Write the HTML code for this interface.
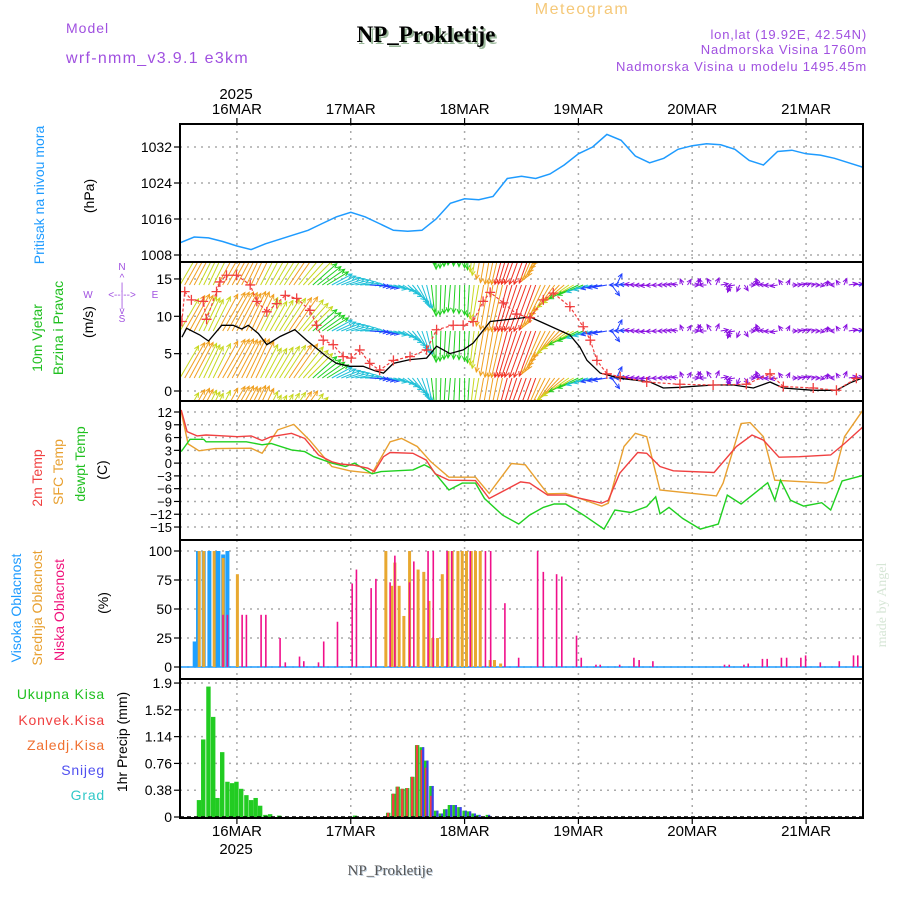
<!DOCTYPE html>
<html><head><meta charset="utf-8">
<style>
html,body{margin:0;padding:0;background:#fff;}
body{width:900px;height:900px;overflow:hidden;font-family:"Liberation Sans",sans-serif;}
</style></head>
<body>
<svg id="chart" width="900" height="900" viewBox="0 0 900 900" xmlns="http://www.w3.org/2000/svg" font-family="Liberation Sans, sans-serif">
<defs>
<clipPath id="cpP"><rect x="180" y="124" width="683" height="138"/></clipPath>
<clipPath id="cpW"><rect x="180" y="262" width="683" height="139"/></clipPath>
<clipPath id="cpT"><rect x="180" y="401" width="683" height="139"/></clipPath>
</defs>
<text x="582" y="14" font-size="16" fill="#f5c878" text-anchor="middle" letter-spacing="1.5">Meteogram</text>
<text x="66" y="33" font-size="14" fill="#a050e0" letter-spacing="1">Model</text>
<text x="66" y="63" font-size="16" fill="#a050e0" letter-spacing="1.3">wrf-nmm_v3.9.1 e3km</text>
<text x="428" y="44" font-size="23" font-weight="bold" style="font-family:'Liberation Serif',serif" fill="#9ab89a" text-anchor="middle">NP_Prokletije</text>
<text x="426" y="42" font-size="23" font-weight="bold" style="font-family:'Liberation Serif',serif" fill="#000" text-anchor="middle">NP_Prokletije</text>
<text x="867" y="39" font-size="13" fill="#a050e0" text-anchor="end" letter-spacing="0.8">lon,lat (19.92E, 42.54N)</text>
<text x="867" y="54" font-size="13" fill="#a050e0" text-anchor="end" letter-spacing="0.8">Nadmorska Visina 1760m</text>
<text x="867" y="71" font-size="13" fill="#a050e0" text-anchor="end" letter-spacing="0.8">Nadmorska Visina u modelu 1495.45m</text>
<text x="236" y="99" font-size="15" text-anchor="middle">2025</text>
<text x="236" y="854" font-size="15" text-anchor="middle">2025</text>
<text x="391" y="876" font-size="15" style="font-family:'Liberation Serif',serif" fill="#bcd" text-anchor="middle">NP_Prokletije</text>
<text x="390" y="875" font-size="15" style="font-family:'Liberation Serif',serif" fill="#555" text-anchor="middle">NP_Prokletije</text>
<text transform="translate(886,605) rotate(-90)" font-size="14" style="font-family:'Liberation Serif',serif" fill="#d6e6d6" text-anchor="middle">made by Angel</text>

<text transform="translate(44,195) rotate(-90)" font-size="14" fill="#1e9bff" text-anchor="middle">Pritisak na nivou mora</text>
<text transform="translate(94,196) rotate(-90)" font-size="14" text-anchor="middle">(hPa)</text>
<text transform="translate(42,338) rotate(-90)" font-size="14" fill="#20c020" text-anchor="middle">10m Vjetar</text>
<text transform="translate(63,328) rotate(-90)" font-size="14" fill="#20c020" text-anchor="middle">Brzina i Pravac</text>
<text transform="translate(93,322) rotate(-90)" font-size="14" text-anchor="middle">(m/s)</text>
<g fill="#a050e0" font-size="10" text-anchor="middle">
<text x="122" y="270">N</text><text x="122" y="281">^</text><text x="122" y="290">|</text>
<text x="88" y="298">W</text><text x="122" y="298">&lt;--|--&gt;</text><text x="155" y="298">E</text>
<text x="122" y="307">|</text><text x="122" y="314">v</text><text x="122" y="322">S</text>
</g>
<text transform="translate(42,478) rotate(-90)" font-size="14" fill="#f04040" text-anchor="middle">2m Temp</text>
<text transform="translate(63,472) rotate(-90)" font-size="14" fill="#e8a030" text-anchor="middle">SFC Temp</text>
<text transform="translate(85,464) rotate(-90)" font-size="14" fill="#20c020" text-anchor="middle">dewpt Temp</text>
<text transform="translate(107,470) rotate(-90)" font-size="14" text-anchor="middle">(C)</text>
<text transform="translate(21,608) rotate(-90)" font-size="14" fill="#1e9bff" text-anchor="middle">Visoka Oblacnost</text>
<text transform="translate(42,608) rotate(-90)" font-size="14" fill="#e8a030" text-anchor="middle">Srednja Oblacnost</text>
<text transform="translate(64,610) rotate(-90)" font-size="14" fill="#f0107a" text-anchor="middle">Niska Oblacnost</text>
<text transform="translate(108,603) rotate(-90)" font-size="14" text-anchor="middle">(%)</text>
<g font-size="14" text-anchor="end" letter-spacing="0.8">
<text x="105" y="699" fill="#20c020">Ukupna Kisa</text>
<text x="105" y="725" fill="#f04040">Konvek.Kisa</text>
<text x="105" y="750" fill="#f07030">Zaledj.Kisa</text>
<text x="105" y="775" fill="#5050f0">Snijeg</text>
<text x="105" y="800" fill="#30c8c8">Grad</text>
</g>
<text transform="translate(127,742) rotate(-90)" font-size="14" text-anchor="middle">1hr Precip (mm)</text>
<g id="plot"></g>
</svg>
<script>
// ---- data ----
const dayLabels = ["16MAR","17MAR","18MAR","19MAR","20MAR","21MAR"];
const dayHours = [12,36,60,84,108,132];
// pressure, every 3h from hour 0
const presStep = 3;
const presValues = [1010.7,1012,1011.8,1011,1010,1009.2,1010.5,1011.5,1012.5,1013.5,1015,1016.5,1017.5,1016.5,1015,1013.5,1013.3,1013.5,1016,1019.5,1020.5,1020.3,1021,1025,1025.5,1025,1026,1028,1030.5,1032,1034.8,1033.5,1030,1028.5,1029.5,1031.5,1032.3,1032.7,1032.5,1031.5,1029,1028,1031,1031.3,1030.5,1030.2,1029.5,1028.5,1027.5];
const presTicks = [1008,1016,1024,1032];
// wind speed (black line)
const windHours = [0.4,1.4,4.2,6,8.8,11.2,13,14.4,16.5,18.3,21.1,24.2,26.7,30.9,33,35.8,38.6,41.1,42.9,45,48.5,52,54.1,56.9,59.7,61.8,65.4,68.2,73.8,76.6,82.2,84.3,85.8,88.6,92.8,99.1,101.9,105.4,112.4,116.7,120.9,124.4,127.2,133.5,138.4,141.3,143.7];
const windSpeed = [7.2,8.4,7.5,6.7,8.8,8.8,8.3,8.8,7.7,6.2,7.3,8.2,6.8,4.6,3.7,3.3,3.3,2.7,2.4,3.7,4.2,4.4,6.0,5.0,5.5,6.4,9.3,9.5,9.9,9.1,7.5,5.9,4.1,2.4,1.7,1.2,0.4,0.5,0.8,0.8,0.4,1.2,0.4,0.1,0.1,1.1,1.7];
// gusts (red +)
const gustHours = [0.4,1,2.4,4.9,5.6,7.7,8.4,9.8,11.9,14.8,16.2,18.3,20.4,22.2,24.6,27.4,28.8,30.2,32.3,34.4,36.1,37.9,40,42.1,45,48.5,52,54.1,57.6,59.7,61.8,63.9,65.4,68.2,71,73.8,76.6,78.7,82.2,85,86.5,87.9,90,92.8,98.4,105.4,112.4,119.4,124.4,127.2,133.5,138.4,142.6];
const gustSpeed = [9.3,13.3,12.2,12,9.6,13.3,14.6,15.5,15.5,14.2,12,10.6,11.7,12.8,12.4,10.8,8.8,6.8,6.2,4.6,4.4,5.5,3.7,2.8,4.1,4.6,5.5,8.2,8.8,8.8,9.3,12,13.2,11.8,10.3,9.8,12.2,13.1,11.3,8.6,6.8,4.1,2.3,1.9,1.2,0.9,0.8,0.9,2.3,0.6,0.4,0.1,1.7];
// wind pointing direction (deg, 0=east, 90=north), every 3h
const dirStep = 3;
const windDir = [60,62,65,60,62,65,62,58,55,45,35,25,15,0,-10,-15,-40,-70,-90,-95,-90,-100,-100,-105,-110,-110,-120,-140,-155,-165,-170,180,175,185,180,170,0,180,10,-170,0,170,190,0,20,-10,180,10,0];
const windTicks = [0,5,10,15];
// temperatures
const t2Hours = [0.26,1.5,3.6,5.5,7.4,12.1,15,17.3,19.2,23.5,26.3,29.2,32,33.9,36.8,39.6,41,42.9,44.3,49.1,51.9,53.8,56.7,62.3,65.2,71.8,73.7,77.5,81.3,88.9,90.3,92.7,96.5,98.4,101.2,104,112.6,117.3,120.6,123,126.3,130.6,137.2,140.1,144.3];
const t2Values = [12.5,7.4,6.4,6.6,6.5,6.2,6.4,5.3,6.2,7.0,5.8,1.9,0.3,-0.2,-0.5,-1.2,-2.0,1.5,2.5,2.3,0.7,-2.5,-4.0,-4.1,-8.3,-4.4,-4.7,-7.5,-7.5,-9.4,-8.7,-2.4,2.5,2.3,-0.8,-1.8,-2.2,3.9,6.6,5.4,1.4,1.5,1.9,4.6,8.8];
const sfcHours = [0.26,1.7,4,7.4,15,17.3,20.6,24,27.3,32,35.8,40.5,44.3,46.7,50,52.9,56.7,62.3,65.2,69.9,72.8,77.5,81.3,88.9,90.3,93.6,96,98.4,101.2,113.1,114.5,118.3,120.2,123,125.4,136.3,137.7,140.1,143.9];
const sfcValues = [12.1,4.5,2.9,3.4,3.5,2.3,7.8,9.1,5.4,-0.8,-1.8,-2.4,5.0,5.8,3.9,0.3,-3.3,-3.3,-7.1,-0.1,-0.4,-7.2,-7.1,-10.1,-9.4,3.9,7.0,6.2,-6.3,-7.7,-4.7,9.3,9.5,6.2,-4.0,-4.7,-4.0,6.2,12.3];
const dewHours = [0.26,2.1,5,5.5,14,17.3,19.2,23.5,26.3,28.2,32,34.9,36.8,40.5,42.4,49.1,51.5,52.9,56.7,59.5,62.3,64.2,68,71.4,73.7,76.6,78.9,81.3,85.1,89.4,91.7,95,98.4,100.3,101.2,103.1,106,109.7,113.5,115.4,118.3,121.1,123.9,125.4,126.6,128.7,131.5,135.3,137.2,139.6,144.3];
const dewValues = [2.7,5.6,5.6,5.0,5.0,4.3,4.6,3.1,2.7,1.5,0,-0.8,0,-2.5,-2.0,-1.6,-0.4,-1.2,-6.3,-4.7,-4.7,-8.3,-12.2,-14.3,-12.2,-10.4,-9.6,-9.6,-12.2,-15.5,-11,-11.6,-10.2,-7.9,-11.9,-10.4,-13,-15.5,-14.3,-7.5,-9.6,-7.1,-4.6,-8.7,-4.0,-8.7,-10.1,-9.3,-11,-4.2,-2.8];
const tempTicks = [12,9,6,3,0,-3,-6,-9,-12,-15];
// clouds
const highHours = [3.1,3.8,5.0,6.2,7.4,8.1,9.1,10.0];
const highValues = [22,100,100,100,100,100,97,100];
const midHours = [4.05,5.0,7.2,9.1,12.1,43.4,44.6,45.3,46.2,47.2,48.4,50.2,51.4,52.5,53.3,54.3,55.3,56.5,57.4,58.6,59.5,60.4,61.4,62.3,63.3,65.4,66.3,67.6];
const midValues = [100,100,100,94,80,100,70,90,70,44,100,84,82,57,25,25,80,100,100,100,100,100,100,100,100,6,6,3];
const lowHours = [9.07,10,13.1,14,17.1,18.1,21.1,22.2,25.2,26.1,29.2,30.3,33.2,36.3,37.2,40.3,41.3,44.3,45.3,48.4,49.3,52.3,53.4,56.3,57.3,61.2,64.4,65.5,68.5,71.4,75.4,76.6,79.4,80.5,83.6,84.6,87.7,88.6,92.7,95.7,96.8,99.7,114.8,115.8,118.9,119.8,122.8,123.8,126.8,127.9,130.9,131.9,135,139,142,142.9];
const lowValues = [45,45,45,45,45,45,25,4,9,5,4,22,39,72,84,68,76,73,96,73,91,100,100,100,100,100,100,100,55,8,100,82,80,78,27,8,2,2,2,8,6,5,2,2,2,3,7,7,8,8,8,10,4,5,10,10];
const cloudTicks = [0,25,50,75,100];
// precipitation (mm/h)
const prcHours = [4,4.9,6,7,7.9,8.9,10,11,11.9,12.9,14,15,15.95,16.9,18,19,20.9,36.9,43.9,45,45.9,46.9,47.9,49,50,51,51.9,53,54,55,55.9,56.9,57.9,58.9,60,60.9,61.9,62.9,64.9];
const prcTotal = [0.24,1.1,1.85,1.42,0.27,0.92,0.5,0.48,0.5,0.4,0.31,0.24,0.27,0.16,0.03,0.04,0.02,0.02,0.06,0.33,0.43,0.4,0.41,0.57,1.02,0.99,0.8,0.44,0.09,0.05,0.11,0.17,0.17,0.14,0.09,0.08,0.05,0.03,0.03];
const prcConv = [0,0,0,0,0,0,0,0,0,0,0,0,0,0,0,0,0,0,0.06,0.33,0.43,0.4,0.41,0.57,1.02,0.95,0.7,0.3,0,0,0,0,0,0,0,0,0,0,0];
const prcSnow = [0,0,0,0,0,0,0,0,0,0,0,0,0,0,0,0,0,0,0,0,0,0,0,0,0,0.99,0.8,0.44,0.09,0.05,0.11,0.17,0.17,0.14,0.09,0.08,0.05,0.03,0.03];
const prcTicks = [0,0.38,0.76,1.14,1.52,1.9];

// ---- axes ----
const X0=180, X1=863, HMAX=144;
const X = h => X0 + h*(X1-X0)/HMAX;
const Yp = v => 255 - (v-1008)*4.5;
const Yw = v => 391 - v*7.47;
const Yt = v => 412 + (12-v)*4.26;
const Yc = v => 667 - v*1.16;
const Yr = v => 817 - v*70.5;
const panels = [[124,262],[262,401],[401,540],[540,679],[679,818]];

const NS="http://www.w3.org/2000/svg";
const plot=document.getElementById('plot');
function mk(tag, attrs, parent){const e=document.createElementNS(NS,tag);for(const k in attrs)e.setAttribute(k,attrs[k]);(parent||plot).appendChild(e);return e;}
function interp(hs, vs, h){if(h<=hs[0])return vs[0];for(let i=1;i<hs.length;i++){if(h<=hs[i]){const t=(h-hs[i-1])/(hs[i]-hs[i-1]);return vs[i-1]+t*(vs[i]-vs[i-1]);}}return vs[vs.length-1];}

// grids
const grid=mk('g',{stroke:'#aaa','stroke-width':1.5,'stroke-dasharray':'2,5'});


function hgrid(y){mk('line',{x1:X0,x2:X1,y1:y,y2:y},grid);}
presTicks.forEach(v=>hgrid(Yp(v)));
windTicks.forEach(v=>hgrid(Yw(v)));
tempTicks.forEach(v=>hgrid(Yt(v)));
cloudTicks.forEach(v=>hgrid(Yc(v)));
prcTicks.forEach(v=>hgrid(Yr(v)));
dayHours.forEach(h=>panels.forEach(p=>mk('line',{x1:X(h),x2:X(h),y1:p[0],y2:p[1]},grid)));

// tick labels
const tl=mk('g',{'font-size':14,'text-anchor':'end',fill:'#000'});


const tk=mk('g',{stroke:'#000','stroke-width':1.2});
function ytick(y,label,fs){mk('line',{x1:X0-6,x2:X0,y1:y,y2:y},tk);const t=mk('text',{x:X0-8,y:y+5,'font-size':fs||14},tl);t.textContent=label;}
presTicks.forEach(v=>ytick(Yp(v),v));
windTicks.forEach(v=>ytick(Yw(v),v));
tempTicks.forEach(v=>ytick(Yt(v),v<0?'\u2212'+(-v):v,13));
cloudTicks.forEach(v=>ytick(Yc(v),v));
prcTicks.forEach(v=>ytick(Yr(v),v));
dayHours.forEach((h,i)=>{
  mk('line',{x1:X(h),x2:X(h),y1:124,y2:118},tk);
  mk('line',{x1:X(h),x2:X(h),y1:818,y2:824},tk);
  const a=mk('text',{x:X(h),y:114,'font-size':15,'text-anchor':'middle'});
  
  
  a.textContent=dayLabels[i];
  const b=mk('text',{x:X(h),y:836,'font-size':15,'text-anchor':'middle'});
  
  
  b.textContent=dayLabels[i];
});

// pressure line
const pp=presValues.map((v,i)=>X(i*presStep).toFixed(1)+','+Yp(v).toFixed(1)).join(' ');
const pl=mk('polyline',{points:pp,fill:'none',stroke:'#1e9bff','stroke-width':1.5,'clip-path':'url(#cpP)'});



// wind arrows
function spdColor(v){if(v<1.5)return'#8a10e0';if(v<3)return'#2040ff';if(v<4.5)return'#20c0d8';if(v<6.3)return'#20d020';if(v<7.8)return'#c8d820';if(v<9.5)return'#f0a020';return'#f03020';}
const wg=mk('g',{'clip-path':'url(#cpW)','stroke-width':1,fill:'none'});


const rows=[238,285,331,378,425];
const dirHours=windDir.map((_,i)=>i*dirStep);
for(let h=0;h<=HMAX;h++){
  const v=interp(windHours,windSpeed,h);
  const d=interp(dirHours,windDir,h)*Math.PI/180;
  const len=4+v*4.6;const c=spdColor(v);
  rows.forEach(y0=>{
    const x0=X(h),x1=x0+len*Math.cos(d),y1=y0-len*Math.sin(d);
    const a1=d+Math.PI-0.45,a2=d+Math.PI+0.45;
    const p=mk('path',{d:`M${x0.toFixed(1)},${y0}L${x1.toFixed(1)},${y1.toFixed(1)}M${(x1+5*Math.cos(a1)).toFixed(1)},${(y1-5*Math.sin(a1)).toFixed(1)}L${x1.toFixed(1)},${y1.toFixed(1)}L${(x1+5*Math.cos(a2)).toFixed(1)},${(y1-5*Math.sin(a2)).toFixed(1)}`,stroke:c},wg);
    
    
  });
}
const wl=mk('polyline',{points:windHours.map((h,i)=>X(h).toFixed(1)+','+Yw(windSpeed[i]).toFixed(1)).join(' '),fill:'none',stroke:'#000','stroke-width':1.3,'clip-path':'url(#cpW)'});


const gl=mk('polyline',{points:gustHours.map((h,i)=>X(h).toFixed(1)+','+Yw(gustSpeed[i]).toFixed(1)).join(' '),fill:'none',stroke:'#f04040','stroke-width':1.2,'stroke-dasharray':'3,2','clip-path':'url(#cpW)'});


gustHours.forEach((h,i)=>{
  const x=X(h),y=Yw(gustSpeed[i]);
  const m=mk('path',{d:`M${x-5},${y}h10M${x},${y-5}v10`,stroke:'#f04040','stroke-width':1.3,'clip-path':'url(#cpW)'});
  
  
});

// temperature lines
[[sfcHours,sfcValues,'#e8a030','sfc-temp-line'],[dewHours,dewValues,'#20d020','dewpoint-line'],[t2Hours,t2Values,'#f04040','temp-2m-line']].forEach(s=>{
  const l=mk('polyline',{points:s[0].map((h,i)=>X(h).toFixed(1)+','+Yt(s[1][i]).toFixed(1)).join(' '),fill:'none',stroke:s[2],'stroke-width':1.4,'clip-path':'url(#cpT)'});
  
  
});

// cloud bars
const base=mk('line',{x1:X0,x2:X1,y1:Yc(0),y2:Yc(0),stroke:'#1e9bff','stroke-width':1.5});


function bars(hs,vs,w,col,name){hs.forEach((h,i)=>{const y=Yc(vs[i]);const r=mk('rect',{x:X(h)-w/2,y:y,width:w,height:Yc(0)-y,fill:col});
  
  });}
bars(highHours,highValues,4,'#1ea0ff','cloud-high-bar');
bars(midHours,midValues,3,'#e8a830','cloud-mid-bar');
bars(lowHours,lowValues,1.6,'#f0108a','cloud-low-bar');

// precipitation bars
prcHours.forEach((h,i)=>{
  const x=X(h);
  const yT=Yr(prcTotal[i]);
  const g=mk('rect',{x:x-2.2,y:yT,width:4.4,height:817-yT,fill:'#22cc22'});
  
  
  if(prcConv[i]>0){const y=Yr(prcConv[i]);const r=mk('rect',{x:x-1.4,y:y,width:2.4,height:817-y,fill:'#f04040'});
    
    }
  if(prcSnow[i]>0){const y=Yr(prcSnow[i]);const r=mk('rect',{x:x+0.2,y:y,width:2.2,height:817-y,fill:'#4040f0'});
    
    }
});
const pbase=mk('line',{x1:X0,x2:X1,y1:817,y2:817,stroke:'#000','stroke-width':1.5,'stroke-dasharray':'4,3'});



// panel frames
panels.forEach(p=>{
  const r=mk('rect',{x:X0,y:p[0],width:X1-X0,height:p[1]-p[0],fill:'none',stroke:'#000','stroke-width':2});
  
  
});
</script>
</body></html>
